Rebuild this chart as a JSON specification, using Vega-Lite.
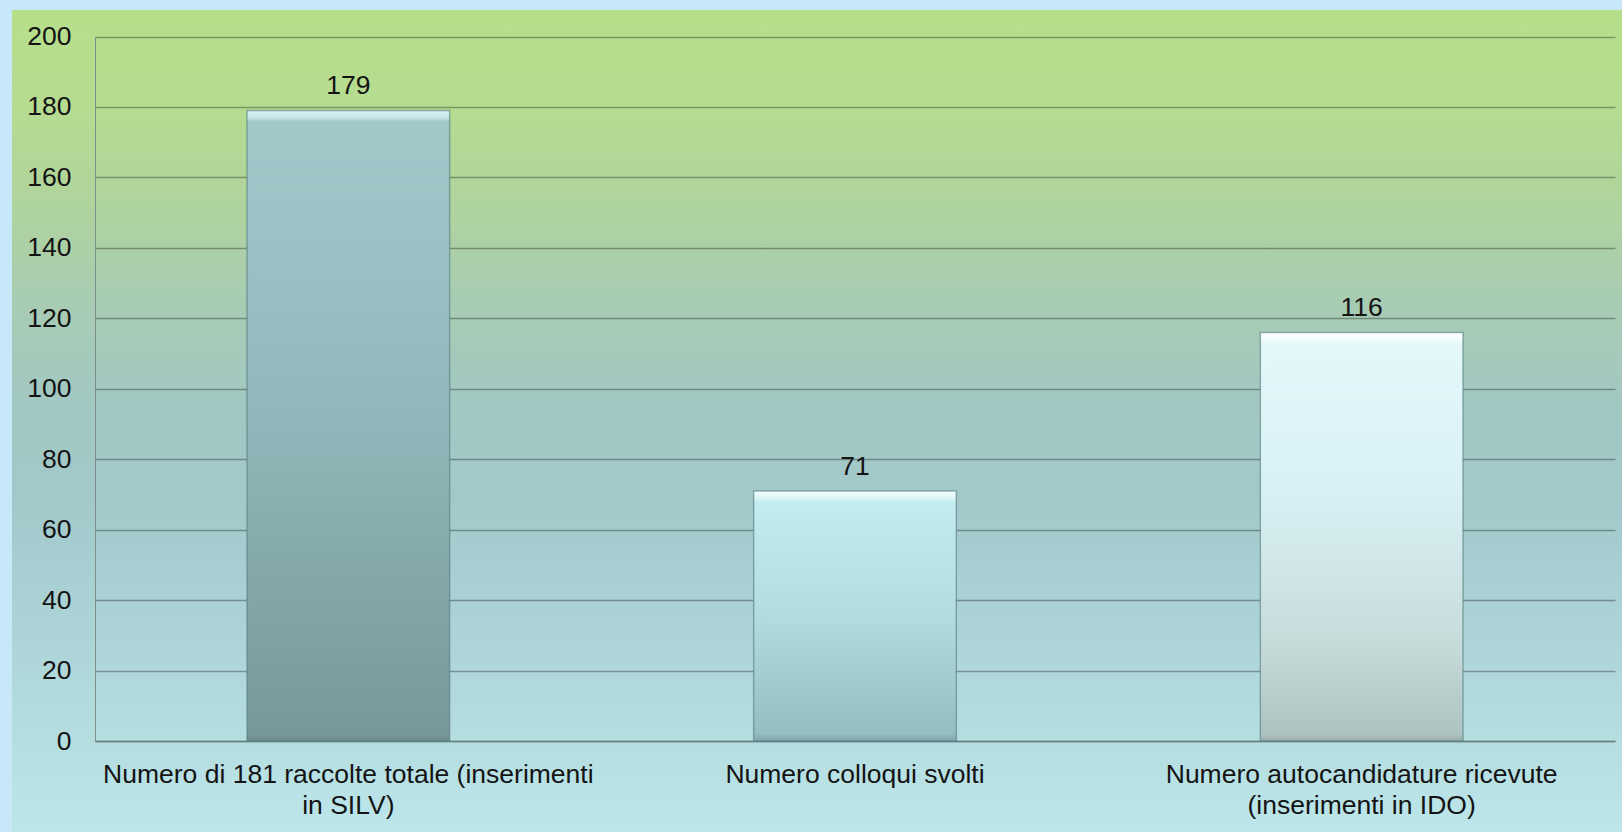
{
  "$schema": "https://vega.github.io/schema/vega-lite/v6.json",
  "width": 1610,
  "height": 822,
  "autosize": {"type": "none"},
  "padding": {"left": 12, "top": 10, "right": 0, "bottom": 0},
  "background": "#c6e8f8",
  "config": {
    "font": "Liberation Sans",
    "view": {
      "stroke": null,
      "fill": {
        "gradient": "linear", "x1": 0, "y1": 0, "x2": 0, "y2": 1,
        "stops": [
          {"offset": 0, "color": "#b6df8a"},
          {"offset": 0.11, "color": "#b6dc90"},
          {"offset": 0.23, "color": "#b0d49c"},
          {"offset": 0.353, "color": "#a8ccb2"},
          {"offset": 0.474, "color": "#a2c8c2"},
          {"offset": 0.595, "color": "#a2c8ca"},
          {"offset": 0.778, "color": "#aed6d8"},
          {"offset": 1, "color": "#bce6ea"}
        ]
      }
    },
    "axis": {
      "labelFont": "Liberation Sans",
      "labelFontSize": 26.5,
      "labelColor": "#141414",
      "title": null,
      "ticks": false
    }
  },
  "data": {
    "values": [
      {"categoria": "Numero di 181 raccolte totale (inserimenti in SILV)", "valore": 179},
      {"categoria": "Numero colloqui svolti", "valore": 71},
      {"categoria": "Numero autocandidature ricevute (inserimenti in IDO)", "valore": 116}
    ]
  },
  "encoding": {
    "x": {
      "field": "categoria",
      "type": "nominal",
      "sort": null,
      "scale": {
        "domain": [
          "Numero di 181 raccolte totale (inserimenti in SILV)",
          "Numero colloqui svolti",
          "Numero autocandidature ricevute (inserimenti in IDO)"
        ],
        "range": [83, 1603],
        "paddingInner": 0.6,
        "paddingOuter": 0.3
      },
      "axis": {
        "offset": -91,
        "labelAngle": 0,
        "labelPadding": 20,
        "labelLineHeight": 31,
        "labelLimit": 0,
        "domainColor": "#5f7a78",
        "domainWidth": 1.5,
        "domainOpacity": 0.8,
        "grid": false,
        "labelExpr": "datum.value == 'Numero di 181 raccolte totale (inserimenti in SILV)' ? ['Numero di 181 raccolte totale (inserimenti', 'in SILV)'] : datum.value == 'Numero autocandidature ricevute (inserimenti in IDO)' ? ['Numero autocandidature ricevute', '(inserimenti in IDO)'] : datum.value"
      }
    },
    "y": {
      "field": "valore",
      "type": "quantitative",
      "scale": {"domain": [0, 200], "range": [731, 26.5], "nice": false, "zero": true},
      "axis": {
        "values": [0, 20, 40, 60, 80, 100, 120, 140, 160, 180, 200],
        "offset": -83,
        "labelPadding": 24,
        "domainColor": "#7d8f8a",
        "domainWidth": 1,
        "grid": true,
        "gridColor": "#000000",
        "gridOpacity": 0.32,
        "gridWidth": 1.5
      }
    }
  },
  "layer": [
    {
      "transform": [{"filter": "datum.valore == 179"}],
      "mark": {
        "type": "bar",
        "stroke": "#5a7e80",
        "strokeWidth": 1.5,
        "strokeOpacity": 0.6,
        "fill": {
          "gradient": "linear", "x1": 0, "y1": 0, "x2": 0, "y2": 1,
          "stops": [
            {"offset": 0, "color": "#d8f2f4"},
            {"offset": 0.012, "color": "#c4e4e6"},
            {"offset": 0.018, "color": "#a2c8ca"},
            {"offset": 0.45, "color": "#92babc"},
            {"offset": 0.99, "color": "#78989a"},
            {"offset": 1, "color": "#6a8a8c"}
          ]
        }
      }
    },
    {
      "transform": [{"filter": "datum.valore == 71"}],
      "mark": {
        "type": "bar",
        "stroke": "#5a7e80",
        "strokeWidth": 1.5,
        "strokeOpacity": 0.6,
        "fill": {
          "gradient": "linear", "x1": 0, "y1": 0, "x2": 0, "y2": 1,
          "stops": [
            {"offset": 0, "color": "#f4ffff"},
            {"offset": 0.03, "color": "#dcf6f8"},
            {"offset": 0.045, "color": "#c2ecf0"},
            {"offset": 0.5, "color": "#b2dce0"},
            {"offset": 0.97, "color": "#94bec2"},
            {"offset": 1, "color": "#80a6aa"}
          ]
        }
      }
    },
    {
      "transform": [{"filter": "datum.valore == 116"}],
      "mark": {
        "type": "bar",
        "stroke": "#5a7e80",
        "strokeWidth": 1.5,
        "strokeOpacity": 0.6,
        "fill": {
          "gradient": "linear", "x1": 0, "y1": 0, "x2": 0, "y2": 1,
          "stops": [
            {"offset": 0, "color": "#ffffff"},
            {"offset": 0.02, "color": "#f2fcfd"},
            {"offset": 0.028, "color": "#e4f8fb"},
            {"offset": 0.4, "color": "#d8f0f4"},
            {"offset": 0.75, "color": "#c8dcdc"},
            {"offset": 0.985, "color": "#aec2c2"},
            {"offset": 1, "color": "#98acac"}
          ]
        }
      }
    },
    {
      "mark": {
        "type": "text",
        "baseline": "alphabetic",
        "dy": -16,
        "fontSize": 26.5,
        "font": "Liberation Sans",
        "color": "#141414"
      },
      "encoding": {"text": {"field": "valore", "type": "quantitative"}}
    }
  ]
}
